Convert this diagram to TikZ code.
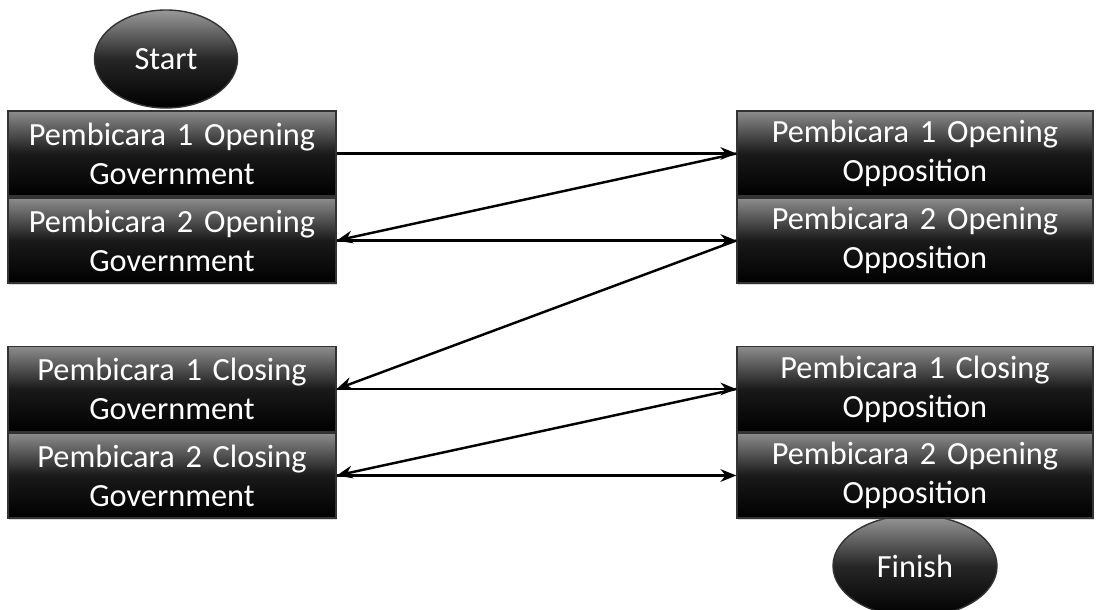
\documentclass[tikz,border=0pt]{standalone}
\usepackage{fontspec}
\setmainfont{Carlito}
\usetikzlibrary{arrows.meta, shapes.geometric, shadows}

\tikzset{
    speaker/.style={draw=black!80, line width=0.4pt, top color=black!45, bottom color=black, middle color=black!90,
        text=white, align=center, text width=3.2cm, minimum height=0.85cm, inner sep=0pt,
        font=\fontsize{9.2}{11.1}\selectfont,
        drop shadow={shadow xshift=0.4pt, shadow yshift=-0.6pt, opacity=0.3}},
    terminal/.style={ellipse, draw=black!80, line width=0.4pt, top color=black!40, bottom color=black, middle color=black!85,
        text=white, inner sep=0pt, font=\fontsize{9.2}{11.1}\selectfont},
    turn/.style={-{Stealth[length=4.5pt,width=3.6pt]}, line width=0.7pt, black}
}

\begin{document}
\begin{tikzpicture}
    \useasboundingbox (0,0) rectangle (11.01,6.09);

    % start / finish
    \node[terminal, minimum width=1.43cm, minimum height=0.98cm] (start) at (1.66,5.50) {Start};
    \node[terminal, minimum width=1.64cm, minimum height=1.02cm] (finish) at (9.15,0.43) {Finish};

    % government side
    \node[speaker, minimum width=3.28cm] (g1) at (1.72,4.555) {Pembicara 1 Opening\\Government};
    \node[speaker, minimum width=3.28cm] (g2) at (1.72,3.685) {Pembicara 2 Opening\\Government};
    \node[speaker, minimum width=3.28cm] (g3) at (1.72,2.200) {Pembicara 1 Closing\\Government};
    \node[speaker, minimum width=3.28cm] (g4) at (1.72,1.335) {Pembicara 2 Closing\\Government};

    % opposition side
    \node[speaker, minimum width=3.56cm] (o1) at (9.15,4.555) {Pembicara 1 Opening\\Opposition};
    \node[speaker, minimum width=3.56cm] (o2) at (9.15,3.685) {Pembicara 2 Opening\\Opposition};
    \node[speaker, minimum width=3.56cm] (o3) at (9.15,2.200) {Pembicara 1 Closing\\Opposition};
    \node[speaker, minimum width=3.56cm] (o4) at (9.15,1.335) {Pembicara 2 Opening\\Opposition};

    % speaking order
    \draw[turn] (g1.east) -- (o1.west);
    \draw[turn] (o1.west) -- (g2.east);
    \draw[turn] (g2.east) -- (o2.west);
    \draw[turn] (o2.west) -- (g3.east);
    \draw[turn] (g3.east) -- (o3.west);
    \draw[turn] (o3.west) -- (g4.east);
    \draw[turn] (g4.east) -- (o4.west);
\end{tikzpicture}
\end{document}
